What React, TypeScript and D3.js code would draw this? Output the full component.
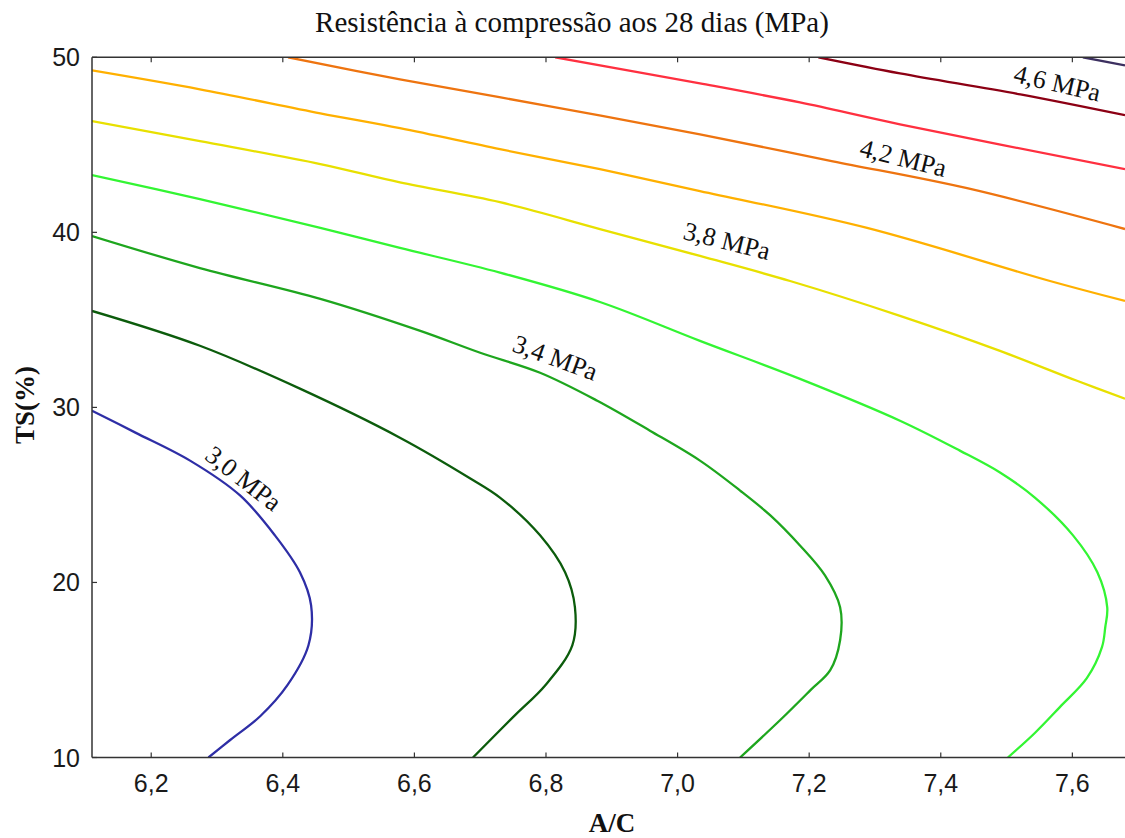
import React from "react";
import * as d3 from "d3";

// chart data
const chartTitle = "Resistência à compressão aos 28 dias (MPa)";
const xTitle = "A/C";
const yTitle = "TS(%)";

const xTicks = [6.2, 6.4, 6.6, 6.8, 7.0, 7.2, 7.4, 7.6];
const yTicks = [10, 20, 30, 40, 50];

const levels = [3.0, 3.2, 3.4, 3.6, 3.8, 4.0, 4.2, 4.4, 4.6, 4.8];
const levelColors = ["#2e2ea6", "#0c5c0c", "#1ea61e", "#33f533", "#e8e000", "#ffb000", "#ee7410", "#ff3040", "#8c0014", "#3c3060"];

// iso-lines as [A/C, TS] points
const c30 = [[6.110, 29.81], [6.176, 28.56], [6.259, 26.96], [6.335, 24.97], [6.388, 22.69], [6.426, 20.58], [6.443, 18.69], [6.439, 16.41], [6.407, 14.13], [6.366, 12.37], [6.320, 11.0], [6.287, 10.0]];
const c32 = [[6.110, 35.51], [6.274, 33.52], [6.426, 31.07], [6.578, 28.27], [6.685, 25.94], [6.730, 24.85], [6.791, 22.69], [6.829, 20.58], [6.844, 18.58], [6.840, 16.41], [6.799, 14.13], [6.753, 12.42], [6.689, 10.0]];
const c34 = [[6.110, 39.79], [6.274, 37.96], [6.457, 36.20], [6.609, 34.37], [6.700, 33.12], [6.791, 31.98], [6.878, 30.38], [6.958, 28.67], [7.034, 26.96], [7.095, 25.25], [7.141, 23.83], [7.186, 22.11], [7.224, 20.40], [7.247, 18.58], [7.247, 16.70], [7.232, 14.99], [7.202, 13.85], [7.156, 12.14], [7.095, 10.0]];
const c36 = [[6.110, 43.27], [6.274, 41.90], [6.457, 40.25], [6.578, 39.11], [6.730, 37.70], [6.882, 36.02], [7.034, 33.80], [7.186, 31.63], [7.338, 29.24], [7.429, 27.53], [7.490, 26.28], [7.543, 24.85], [7.601, 22.69], [7.638, 20.58], [7.653, 18.58], [7.650, 17.44], [7.645, 16.30], [7.622, 14.53], [7.581, 12.88], [7.543, 11.40], [7.502, 10.0]];
const c38 = [[6.110, 46.35], [6.274, 45.21], [6.457, 43.90], [6.578, 42.85], [6.730, 41.72], [6.882, 40.19], [7.034, 38.65], [7.171, 37.22], [7.338, 35.23], [7.490, 33.23], [7.607, 31.52], [7.680, 30.50]];
const c40 = [[6.110, 49.25], [6.274, 48.17], [6.457, 46.80], [6.578, 45.95], [6.730, 44.75], [6.882, 43.61], [7.034, 42.36], [7.288, 40.25], [7.566, 37.22], [7.680, 36.08]];
const c42 = [[6.408, 50.0], [6.578, 48.74], [6.806, 47.20], [7.034, 45.60], [7.236, 44.06], [7.440, 42.52], [7.680, 40.19]];
const c44 = [[6.814, 50.0], [7.034, 48.51], [7.186, 47.42], [7.338, 46.17], [7.680, 43.61]];
const c46 = [[7.214, 50.0], [7.338, 49.08], [7.521, 47.88], [7.680, 46.69]];
const c48 = [[7.616, 50.0], [7.680, 49.54]];

const isoLines = [c30, c32, c34, c36, c38, c40, c42, c44, c46, c48];

const lineLabels = [
  { text: "3,0 MPa", x: 6.340, y: 25.93, angle: 38 },
  { text: "3,4 MPa", x: 6.814, y: 32.83, angle: 20 },
  { text: "3,8 MPa", x: 7.075, y: 39.50, angle: 14 },
  { text: "4,2 MPa", x: 7.343, y: 44.24, angle: 14 },
  { text: "4,6 MPa", x: 7.577, y: 48.51, angle: 13 },
];

const width = 1125;
const height = 838;
const marginLeft = 92;
const marginTop = 57.3;
const plotBottom = 757.5;

const fmt = (v: number) => d3.format(".1f")(v).replace(".", ",");

const App = () => {
  const x = d3.scaleLinear().domain([6.11, 7.68]).range([marginLeft, 1125]);
  const y = d3.scaleLinear().domain([10, 50]).range([plotBottom, marginTop]);

  const line = d3.line<number[]>()
    .x(d => x(d[0]))
    .y(d => y(d[1]))
    .curve(d3.curveCatmullRom.alpha(0.5));

  const axisColor = "#333";
  const tickFont = "'Liberation Sans', Arial, sans-serif";
  const serif = "'Liberation Serif', 'Times New Roman', serif";

  return (
    <div style={{ position: "absolute", left: 0, top: 0 }}>
      <svg width={width} height={height} style={{ display: "block", background: "#fff" }}>
        <defs>
          <clipPath id="plot-clip">
            <rect x={marginLeft} y={marginTop} width={width - marginLeft} height={plotBottom - marginTop} />
          </clipPath>
        </defs>

        <text x={572} y={32} textAnchor="middle" fontFamily={serif} fontSize={29} fill="#111">
          {chartTitle}
        </text>

        <g clipPath="url(#plot-clip)" fill="none" strokeWidth={2.3} strokeLinejoin="round">
          {isoLines.map((pts, i) => (
            <path key={levels[i]} d={line(pts) || ""} stroke={levelColors[i]} />
          ))}
        </g>

        {lineLabels.map(l => (
          <text
            key={l.text}
            transform={`translate(${x(l.x)},${y(l.y)}) rotate(${l.angle})`}
            textAnchor="middle"
            dominantBaseline="central"
            fontFamily={serif}
            fontSize={26}
            fill="#111"
          >
            {l.text}
          </text>
        ))}

        {/* frame */}
        <g stroke={axisColor} strokeWidth={1.5}>
          <line x1={marginLeft} x2={width} y1={marginTop} y2={marginTop} />
          <line x1={marginLeft} x2={width} y1={plotBottom} y2={plotBottom} />
          <line x1={marginLeft} x2={marginLeft} y1={marginTop} y2={plotBottom} />
        </g>

        {/* x ticks */}
        {xTicks.map(t => (
          <g key={t}>
            <line x1={x(t)} x2={x(t)} y1={plotBottom} y2={plotBottom - 5} stroke={axisColor} strokeWidth={1.2} />
            <line x1={x(t)} x2={x(t)} y1={marginTop} y2={marginTop + 5} stroke={axisColor} strokeWidth={1.2} />
            <text x={x(t)} y={792} textAnchor="middle" fontFamily={tickFont} fontSize={25} fill="#1a1a1a">
              {fmt(t)}
            </text>
          </g>
        ))}

        {/* y ticks */}
        {yTicks.map(t => (
          <g key={t}>
            <line x1={marginLeft} x2={marginLeft + 5} y1={y(t)} y2={y(t)} stroke={axisColor} strokeWidth={1.2} />
            <text x={80} y={y(t)} textAnchor="end" dominantBaseline="central" fontFamily={tickFont} fontSize={25} fill="#1a1a1a">
              {t}
            </text>
          </g>
        ))}

        <text x={612} y={832} textAnchor="middle" fontFamily={serif} fontWeight="bold" fontSize={27} fill="#111">
          {xTitle}
        </text>
        <text transform={`translate(34,${405}) rotate(-90)`} textAnchor="middle" fontFamily={serif} fontWeight="bold" fontSize={27} fill="#111">
          {yTitle}
        </text>
      </svg>
    </div>
  );
};

export default App;
